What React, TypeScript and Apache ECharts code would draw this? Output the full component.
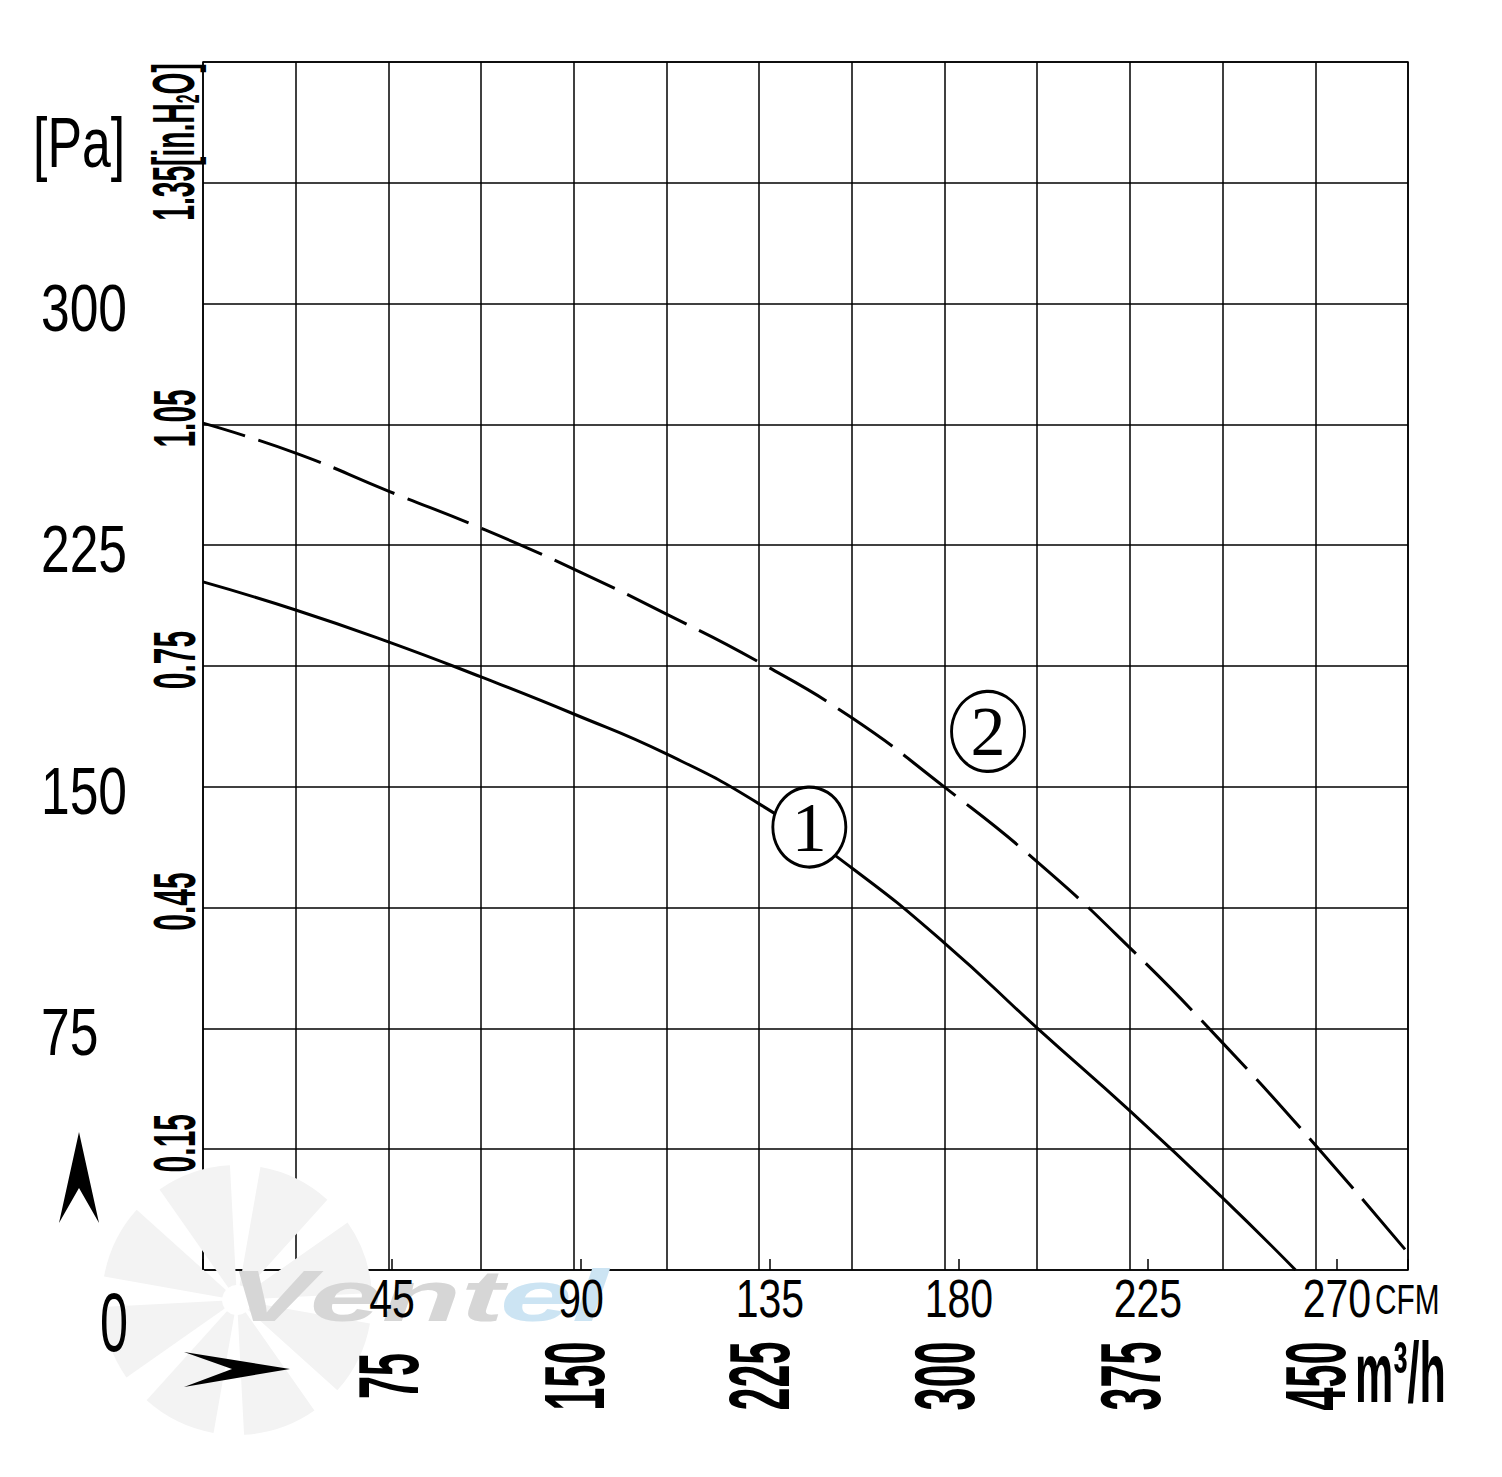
import React, { useEffect, useRef } from 'react';
import * as echarts from 'echarts';

// ---- data ----
const flow2 = [0, 37.5, 75, 112.5, 150, 187.5, 225, 262.5, 300, 337.5, 375, 412.5, 450, 487.5];
const pressure2 = [262.9, 253.6, 241.8, 230.3, 217.6, 203.6, 188.7, 171.4, 149.9, 126.7, 100.0, 70.5, 38.8, 5.3];
const flow1 = [0, 37.5, 75, 112.5, 150, 187.5, 225, 262.5, 300, 337.5, 375, 412.5, 442];
const pressure1 = [213.6, 204.9, 195.0, 184.1, 172.6, 160.2, 144.7, 124.8, 101.5, 75.1, 49.4, 22.4, 0];
const markerLabels = ['1', '2'];
const markerFlow = [245.3, 317.6];
const markerPressure = [137.5, 167.2];
const m3hTicks = [75, 150, 225, 300, 375, 450];
const cfmTicks = [45, 90, 135, 180, 225, 270];
const paTicks = [75, 150, 225, 300];
const inH2OTicks = [0.15, 0.45, 0.75, 1.05, 1.35];

const SANS = '"Liberation Sans", Arial, sans-serif';
const SERIF = '"Liberation Serif", "DejaVu Serif", serif';

export default function App() {
  const ref = useRef<HTMLDivElement>(null);
  useEffect(() => {
    if (!ref.current) return;
    const chart = echarts.init(ref.current, undefined, { renderer: 'svg' });
    chart.setOption({
      animation: false,
      backgroundColor: '#fff',
      grid: {
        left: 203, top: 62, right: 94, bottom: 207,
        show: true, borderColor: '#000', borderWidth: 1.5, outerBoundsMode: 'none',
      },
      xAxis: [
        {
          type: 'value', min: 0, max: 487.5, interval: 37.5, position: 'bottom',
          axisLine: { show: false }, axisTick: { show: false }, axisLabel: { show: false },
          splitLine: { show: true, lineStyle: { color: '#000', width: 1.5 } },
        },
        {
          type: 'value', min: 0, max: 487.5 / 1.699, interval: 45, position: 'bottom',
          axisLine: { show: false }, axisLabel: { show: false }, splitLine: { show: false },
          axisTick: { show: true, inside: true, length: 11, lineStyle: { color: '#000', width: 1.5 } },
        },
      ],
      yAxis: [
        {
          type: 'value', min: 0, max: 375, interval: 37.5, position: 'left',
          axisLine: { show: false }, axisTick: { show: false }, axisLabel: { show: false },
          splitLine: { show: true, lineStyle: { color: '#000', width: 1.5 } },
        },
        {
          type: 'value', min: 0, max: 1.5, interval: 0.15, position: 'left',
          axisLine: { show: false }, axisTick: { show: false }, axisLabel: { show: false },
          splitLine: { show: false },
        },
      ],
      series: [
        {
          type: 'line', xAxisIndex: 0, yAxisIndex: 0, smooth: 0.5, symbol: 'none', z: 3,
          data: flow1.map((x, i) => [x, pressure1[i]]),
          lineStyle: { color: '#000', width: 3 },
        },
        {
          type: 'line', xAxisIndex: 0, yAxisIndex: 0, smooth: 0.5, symbol: 'none', z: 3,
          data: flow2.map((x, i) => [x, pressure2[i]]),
          lineStyle: { color: '#000', width: 3, type: [66, 14], dashOffset: 22 },
        },
        {
          type: 'scatter', xAxisIndex: 0, yAxisIndex: 0, z: 4,
          symbol: 'circle', symbolSize: [73, 80],
          data: markerFlow.map((x, i) => [x, markerPressure[i], markerLabels[i]]),
          itemStyle: { color: '#fff', borderColor: '#000', borderWidth: 3, opacity: 1 },
          label: {
            show: true, position: 'inside', fontFamily: SERIF, fontSize: 70, color: '#000',
            formatter: (p: any) => p.value[2],
          },
        },
      ],
    });

    const px = (v: number) => chart.convertToPixel({ xAxisIndex: 0 }, v) as number;
    const pxCfm = (v: number) => chart.convertToPixel({ xAxisIndex: 1 }, v) as number;
    const pyPa = (v: number) => chart.convertToPixel({ yAxisIndex: 0 }, v) as number;
    const pyIn = (v: number) => chart.convertToPixel({ yAxisIndex: 1 }, v) as number;
    const R90 = Math.PI / 2;

    const g: any[] = [];
    // watermark fan
    for (let i = 0; i < 8; i++) {
      const a0 = (i * 45 + 10) * Math.PI / 180;
      g.push({
        type: 'sector', z: 0, silent: true,
        shape: { cx: 237, cy: 1300, r: 135, r0: 15, startAngle: a0, endAngle: a0 + 32 * Math.PI / 180 },
        style: { fill: '#f3f3f3' },
      });
    }
    g.push(
      { type: 'text', z: 1, silent: true, x: 228, y: 1296, scaleX: 1.8,
        style: { text: 'Vent', fontSize: 72, fontWeight: 'bold', fontStyle: 'italic', fontFamily: SANS, fill: '#d6d6d6', verticalAlign: 'middle' } },
      { type: 'text', z: 1, silent: true, x: 500, y: 1296, scaleX: 1.8,
        style: { text: 'el', fontSize: 72, fontWeight: 'bold', fontStyle: 'italic', fontFamily: SANS, fill: '#cce4f3', verticalAlign: 'middle' } },
      { type: 'polygon', z: 5, silent: true,
        shape: { points: [[79, 1132], [99, 1223], [79, 1188], [59, 1223]] }, style: { fill: '#000' } },
      { type: 'polygon', z: 5, silent: true,
        shape: { points: [[290, 1369], [184, 1352], [232, 1369], [184, 1387]] }, style: { fill: '#000' } },
    );
    // Pa tick labels
    paTicks.forEach((v) => g.push({
      type: 'text', z: 6, x: 41, y: pyPa(v) + 4, scaleX: 0.77,
      style: { text: String(v), fontSize: 67, fontFamily: SANS, fill: '#000', align: 'left', verticalAlign: 'middle' },
    }));
    g.push({
      type: 'text', z: 6, x: 100, y: pyPa(0) + 52, scaleX: 0.6,
      style: { text: '0', fontSize: 84, fontFamily: SANS, fill: '#000', align: 'left', verticalAlign: 'middle' },
    });
    g.push({
      type: 'text', z: 6, x: 33, y: pyPa(375) + 81, scaleX: 0.74,
      style: { text: '[Pa]', fontSize: 70, fontFamily: SANS, fill: '#000', align: 'left', verticalAlign: 'middle' },
    });
    // inH2O tick labels
    inH2OTicks.forEach((v) => {
      if (v === 1.35) {
        g.push({
          type: 'text', z: 6, x: 174, y: pyIn(v) + 38, rotation: R90, scaleX: 0.47,
          style: {
            text: '{a|1.35[in.H}{s|2}{a|O]}', align: 'left', verticalAlign: 'middle',
            rich: {
              a: { fontSize: 60, fontFamily: SANS, fontWeight: 'bold', fill: '#000' },
              s: { fontSize: 34, fontFamily: SANS, fontWeight: 'bold', fill: '#000', verticalAlign: 'bottom' },
            },
          },
        });
      } else {
        g.push({
          type: 'text', z: 6, x: 174, y: pyIn(v) - 6, rotation: R90, scaleX: 0.5,
          style: { text: v.toFixed(2), fontSize: 60, fontFamily: SANS, fontWeight: 'bold', fill: '#000', align: 'center', verticalAlign: 'middle' },
        });
      }
    });
    // CFM tick labels
    cfmTicks.forEach((v) => g.push({
      type: 'text', z: 6, x: pxCfm(v), y: 1298, scaleX: 0.76,
      style: { text: String(v), fontSize: 54, fontFamily: SANS, fill: '#000', align: 'center', verticalAlign: 'middle' },
    }));
    g.push({
      type: 'text', z: 6, x: 1375, y: 1300, scaleX: 0.71,
      style: { text: 'CFM', fontSize: 42, fontFamily: SANS, fill: '#000', align: 'left', verticalAlign: 'middle' },
    });
    // m3/h tick labels
    m3hTicks.forEach((v) => g.push({
      type: 'text', z: 6, x: px(v), y: 1376, rotation: R90, scaleX: 0.48,
      style: { text: String(v), fontSize: 86, fontFamily: SANS, fontWeight: 'bold', fill: '#000', align: 'center', verticalAlign: 'middle' },
    }));
    g.push({
      type: 'text', z: 7, x: 1355, y: 1372, scaleX: 0.5,
      style: { text: 'm³/h', fontSize: 86, fontFamily: SANS, fontWeight: 'bold', fill: '#000', align: 'left', verticalAlign: 'middle' },
    });

    chart.setOption({ graphic: g });
    return () => chart.dispose();
  }, []);
  return <div ref={ref} style={{ position: 'fixed', left: 0, top: 0, width: 1502, height: 1477, background: '#fff' }} />;
}
